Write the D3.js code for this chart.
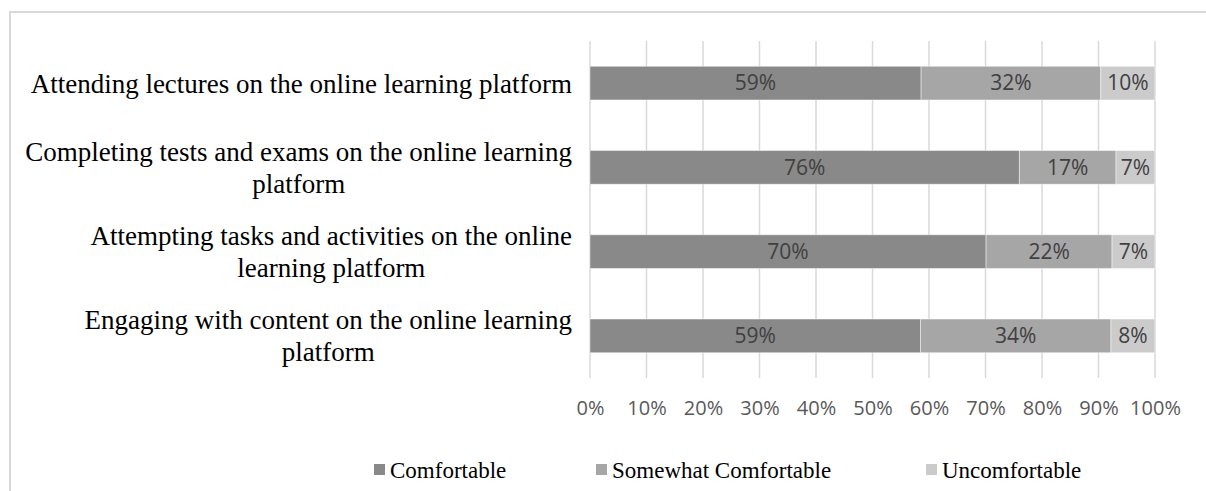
<!DOCTYPE html>
<html>
<head>
<meta charset="utf-8">
<script src="https://cdnjs.cloudflare.com/ajax/libs/d3/7.8.5/d3.min.js"></script>
<style>
  body{margin:0;background:#fff;}
  svg{display:block;}
</style>
</head>
<body>
<div id="chart"></div>
<script>
// categories, top to bottom
const categories = [
  "Attending lectures on the online learning platform",
  "Completing tests and exams on the online learning platform",
  "Attempting tasks and activities on the online learning platform",
  "Engaging with content on the online learning platform"
];
const seriesNames = ["Comfortable", "Somewhat Comfortable", "Uncomfortable"];
const comfortable = [58.6, 76.0, 70.1, 58.5];
const somewhat    = [31.8, 17.1, 22.3, 33.7];
const uncomfortable = [9.6, 6.9, 7.6, 7.8];
const valueLabels = [
  ["59%", "32%", "10%"],
  ["76%", "17%", "7%"],
  ["70%", "22%", "7%"],
  ["59%", "34%", "8%"]
];
const tickValues = [0, 10, 20, 30, 40, 50, 60, 70, 80, 90, 100];
const colors = ["#898989", "#a6a6a6", "#cbcbcb"];

const W = 1206, H = 491;
const margin = {left: 590, right: 51, top: 41, bottom: 113};

const svg = d3.select("#chart").append("svg")
  .attr("width", W).attr("height", H);

// outer chart border (clipped by the picture edges)
svg.append("rect")
  .attr("x", 10).attr("y", 12)
  .attr("width", 1400).attr("height", 700)
  .attr("fill", "none").attr("stroke", "#d9d9d9").attr("stroke-width", 2);

const rows = categories.map((c, i) => ({
  name: c,
  Comfortable: comfortable[i],
  "Somewhat Comfortable": somewhat[i],
  Uncomfortable: uncomfortable[i],
  idx: i
}));

const x = d3.scaleLinear().domain([0, 100]).range([margin.left, W - margin.right]);
const y = d3.scaleBand().domain(categories).range([margin.top, H - margin.bottom]).paddingInner(0.6).paddingOuter(0.3);
const color = d3.scaleOrdinal().domain(seriesNames).range(colors);

// gridlines
svg.append("g").selectAll("line").data(tickValues).join("line")
  .attr("x1", d => x(d)).attr("x2", d => x(d))
  .attr("y1", margin.top).attr("y2", H - margin.bottom)
  .attr("stroke", "#d9d9d9").attr("stroke-width", 1.5);

// x axis labels
const xAxis = d3.axisBottom(x).tickValues(tickValues).tickFormat(d => d + "%").tickSize(0).tickPadding(0);
const gx = svg.append("g")
  .attr("transform", `translate(0,${H - margin.bottom + 31})`)
  .call(xAxis);
gx.select(".domain").remove();
gx.selectAll("text")
  .attr("fill", "#595959")
  .style("font", "20px 'Open Sans', sans-serif")
  .attr("dy", "0.32em").attr("y", 0);

const stack = d3.stack().keys(seriesNames);
const series = stack(rows);

const layer = svg.append("g").selectAll("g").data(series).join("g")
  .attr("fill", d => color(d.key));

layer.selectAll("rect").data(d => d).join("rect")
  .attr("x", d => x(d[0]))
  .attr("width", d => x(d[1]) - x(d[0]))
  .attr("y", d => y(d.data.name))
  .attr("height", y.bandwidth())
  .attr("stroke", "#ffffff").attr("stroke-opacity", 0.45).attr("stroke-width", 1);

// data labels
series.forEach((s, si) => {
  svg.append("g").selectAll("text").data(s).join("text")
    .attr("x", d => (x(d[0]) + x(d[1])) / 2)
    .attr("y", d => y(d.data.name) + y.bandwidth() / 2)
    .attr("dy", "0.35em")
    .attr("text-anchor", "middle")
    .attr("fill", "#404040")
    .style("font", "21px 'Open Sans', sans-serif")
    .text(d => valueLabels[d.data.idx][si]);
});

// category labels, wrapped and centred as a block ending near the plot
const labelRight = 572, maxLineW = 552, lineH = 32;
const catG = svg.append("g").style("font", "27px 'Liberation Serif', 'Times New Roman', serif").attr("fill", "#000");
categories.forEach(c => {
  const t = catG.append("text").attr("text-anchor", "middle");
  const words = c.split(" ");
  let lines = [], cur = [];
  words.forEach(w => {
    cur.push(w);
    t.text(cur.join(" "));
    if (t.node().getComputedTextLength() > maxLineW && cur.length > 1) {
      cur.pop();
      lines.push(cur.join(" "));
      cur = [w];
    }
  });
  lines.push(cur.join(" "));
  t.text(null);
  const widths = lines.map(l => { t.text(l); const w = t.node().getComputedTextLength(); return w; });
  t.text(null);
  const blockW = d3.max(widths);
  const cx = labelRight - blockW / 2;
  const cy = y(c) + y.bandwidth() / 2;
  lines.forEach((l, li) => {
    t.append("tspan")
      .attr("x", cx)
      .attr("y", cy + (li - (lines.length - 1) / 2) * lineH)
      .attr("dy", "0.35em")
      .text(l);
  });
});

// legend
const legendX = [374, 596, 926];
const legend = svg.append("g").selectAll("g").data(seriesNames).join("g")
  .attr("transform", (d, i) => `translate(${legendX[i]},470)`);
legend.append("rect")
  .attr("x", 0).attr("y", -6).attr("width", 11).attr("height", 11)
  .attr("fill", d => color(d));
legend.append("text")
  .attr("x", 16).attr("dy", "0.35em")
  .style("font", "23px 'Liberation Serif', 'Times New Roman', serif")
  .attr("fill", "#000")
  .text(d => d);
</script>
</body>
</html>
